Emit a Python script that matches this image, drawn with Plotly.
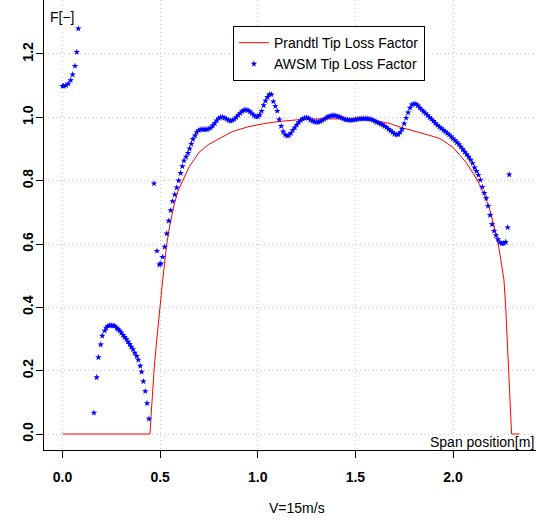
import plotly.graph_objects as go

# Prandtl tip loss factor
prandtl_x = [0.0, 0.448, 0.455, 0.462, 0.470, 0.480, 0.490, 0.500, 0.512, 0.525, 0.534,
             0.550, 0.570, 0.590, 0.617, 0.650, 0.700, 0.750, 0.810, 0.870, 0.950,
             1.030, 1.110, 1.200, 1.300, 1.400, 1.500, 1.600, 1.680, 1.728, 1.800,
             1.870, 1.933, 2.000, 2.036, 2.070, 2.104, 2.135, 2.164, 2.190, 2.207,
             2.225, 2.240, 2.252, 2.261, 2.270, 2.285, 2.300, 2.340]
prandtl_f = [0.0, 0.0, 0.07, 0.14, 0.21, 0.28, 0.35, 0.42, 0.48, 0.55, 0.60,
             0.66, 0.72, 0.765, 0.80, 0.845, 0.89, 0.915, 0.935, 0.955, 0.970,
             0.980, 0.987, 0.992, 0.995, 0.996, 0.995, 0.990, 0.980, 0.969, 0.958,
             0.945, 0.933, 0.905, 0.880, 0.855, 0.822, 0.790, 0.749, 0.705, 0.665,
             0.620, 0.570, 0.525, 0.486, 0.40, 0.20, 0.0, 0.0]

# AWSM tip loss factor
awsm_x = [0.000, 0.006, 0.018, 0.030, 0.042, 0.052, 0.064, 0.073, 0.081,
          0.161, 0.175, 0.184, 0.196, 0.204, 0.216, 0.224, 0.233, 0.242, 0.250,
          0.259, 0.267, 0.278, 0.284, 0.293, 0.301, 0.310, 0.318, 0.327, 0.335,
          0.344, 0.352, 0.361, 0.370, 0.380, 0.388, 0.398, 0.405, 0.414, 0.424,
          0.433, 0.443,
          0.469, 0.484, 0.496, 0.504, 0.513, 0.523, 0.534, 0.544, 0.554, 0.564,
          0.575, 0.585, 0.595, 0.605, 0.614, 0.622, 0.633, 0.643, 0.651, 0.660,
          0.668, 0.679, 0.687, 0.698,
          0.71, 0.72, 0.73, 0.74, 0.75, 0.76, 0.77, 0.78, 0.79, 0.80,
          0.81, 0.82, 0.83, 0.84, 0.85, 0.86, 0.87, 0.88, 0.89, 0.90,
          0.91, 0.92, 0.93, 0.94, 0.95, 0.96, 0.97, 0.98, 0.99, 1.00,
          1.01, 1.02, 1.03, 1.04, 1.05, 1.06, 1.07, 1.08, 1.09, 1.10,
          1.11, 1.12, 1.13, 1.14, 1.15, 1.16, 1.17, 1.18, 1.19, 1.20,
          1.21, 1.22, 1.23, 1.24, 1.25, 1.26, 1.27, 1.28, 1.29, 1.30,
          1.31, 1.32, 1.33, 1.34, 1.35, 1.36, 1.37, 1.38, 1.39, 1.40,
          1.41, 1.42, 1.43, 1.44, 1.45, 1.46, 1.47, 1.48, 1.49, 1.50,
          1.51, 1.52, 1.53, 1.54, 1.55, 1.56, 1.57, 1.58, 1.59, 1.60,
          1.61, 1.62, 1.63, 1.64, 1.65, 1.66, 1.67, 1.68, 1.69, 1.70,
          1.71, 1.72, 1.73, 1.74, 1.75, 1.76, 1.77, 1.78, 1.79, 1.80,
          1.81, 1.82, 1.83, 1.84, 1.85, 1.86, 1.87, 1.88, 1.89, 1.90,
          1.91, 1.92, 1.93, 1.94, 1.95, 1.96, 1.97, 1.98, 1.99, 2.00,
          2.01, 2.02, 2.03, 2.04, 2.05, 2.06, 2.07, 2.08, 2.09, 2.10,
          2.11, 2.12, 2.13, 2.14, 2.15, 2.16, 2.17, 2.18, 2.19, 2.20,
          2.21, 2.22, 2.23, 2.24, 2.25, 2.26, 2.27, 2.280, 2.288]
awsm_f = [1.099, 1.099, 1.101, 1.106, 1.117, 1.135, 1.162, 1.206, 1.280,
          0.067, 0.179, 0.242, 0.282, 0.310, 0.326, 0.335, 0.341, 0.343, 0.343,
          0.342, 0.341, 0.335, 0.331, 0.326, 0.320, 0.312, 0.306, 0.300, 0.292,
          0.284, 0.275, 0.267, 0.256, 0.246, 0.234, 0.215, 0.196, 0.166, 0.135,
          0.097, 0.048,
          0.791, 0.578, 0.535, 0.538, 0.559, 0.591, 0.633, 0.673, 0.706, 0.735,
          0.756, 0.778, 0.800, 0.824, 0.845, 0.863, 0.875, 0.887, 0.901, 0.916,
          0.931, 0.942, 0.953, 0.959,
          0.962, 0.962, 0.962, 0.962, 0.964, 0.967, 0.974, 0.981, 0.990, 0.997,
          1.000, 1.001, 0.998, 0.995, 0.991, 0.989, 0.990, 0.994, 1.000, 1.007,
          1.013, 1.019, 1.023, 1.024, 1.022, 1.018, 1.012, 1.006, 1.002, 1.002,
          1.008, 1.020, 1.038, 1.052, 1.064, 1.073, 1.072, 1.050, 1.035, 1.020,
          0.993, 0.972, 0.955, 0.945, 0.941, 0.944, 0.950, 0.960, 0.968, 0.976,
          0.984, 0.990, 0.995, 0.998, 0.999, 0.997, 0.992, 0.989, 0.986, 0.985,
          0.985, 0.987, 0.990, 0.994, 0.998, 1.002, 1.004, 1.006, 1.006, 1.005,
          1.003, 1.001, 0.998, 0.995, 0.993, 0.992, 0.991, 0.991, 0.992, 0.993,
          0.994, 0.995, 0.996, 0.996, 0.996, 0.996, 0.995, 0.994, 0.991, 0.988,
          0.985, 0.982, 0.979, 0.976, 0.972, 0.968, 0.963, 0.958, 0.953, 0.948,
          0.945, 0.946, 0.953, 0.963, 0.980, 0.998, 1.015, 1.030, 1.040, 1.043,
          1.042, 1.037, 1.030, 1.024, 1.018, 1.012, 1.006, 1.000, 0.994, 0.988,
          0.981, 0.975, 0.970, 0.965, 0.960, 0.955, 0.950, 0.945, 0.939, 0.933,
          0.927, 0.921, 0.915, 0.907, 0.899, 0.891, 0.883, 0.875, 0.866, 0.855,
          0.841, 0.830, 0.818, 0.802, 0.780, 0.761, 0.745, 0.720, 0.691, 0.662,
          0.641, 0.627, 0.615, 0.605, 0.601, 0.602, 0.606, 0.652, 0.819]

x_ticks = [0.0, 0.5, 1.0, 1.5, 2.0]
x_tick_labels = ["0.0", "0.5", "1.0", "1.5", "2.0"]
y_ticks = [0.0, 0.2, 0.4, 0.6, 0.8, 1.0, 1.2]
y_tick_labels = ["0.0", "0.2", "0.4", "0.6", "0.8", "1.0", "1.2"]

FONT = "Liberation Sans, Arial, sans-serif"

fig = go.Figure()
fig.add_trace(go.Scatter(x=prandtl_x, y=prandtl_f, mode="lines",
                         line=dict(color="red", width=1),
                         name="Prandtl Tip Loss Factor"))
fig.add_trace(go.Scatter(x=awsm_x, y=awsm_f, mode="markers",
                         marker=dict(symbol="star", size=5, color="blue",
                                     line=dict(width=0)),
                         name="AWSM Tip Loss Factor"))

fig.update_layout(
    width=536, height=524,
    margin=dict(l=44, r=0, t=0, b=74, autoexpand=False),
    plot_bgcolor="white", paper_bgcolor="white",
    font=dict(family=FONT, color="black", size=14),
    showlegend=True,
    legend=dict(x=0.384, y=0.942, xanchor="left", yanchor="top",
                bordercolor="black", borderwidth=1, bgcolor="white",
                font=dict(size=14, family=FONT), tracegroupgap=0,
                itemwidth=30),
    xaxis=dict(range=[-0.0947, 2.425], tickvals=x_ticks, ticktext=x_tick_labels,
               showline=True, linecolor="black", linewidth=1, automargin=False,
               ticks="outside", ticklen=7, tickcolor="black",
               showgrid=True, gridcolor="#cccccc", griddash="1px,3px", gridwidth=1,
               zeroline=False, tickfont=dict(size=14, family=FONT, weight="bold"),
               ticklabelstandoff=7),
    yaxis=dict(range=[-0.0505, 1.3705], tickvals=y_ticks, ticktext=y_tick_labels,
               showline=True, linecolor="black", linewidth=1, automargin=False,
               ticks="outside", ticklen=7, tickcolor="black", tickangle=-90,
               showgrid=True, gridcolor="#cccccc", griddash="1px,3px", gridwidth=1,
               zeroline=False, tickfont=dict(size=14, family=FONT, weight="bold"),
               ticklabelstandoff=-3),
)

fig.add_annotation(text="F[−]", xref="paper", yref="paper", x=0.0, y=1.0,
                   xshift=4, yshift=-7, xanchor="left", yanchor="top",
                   showarrow=False, font=dict(size=14, family=FONT))
fig.add_annotation(text="Span position[m]", xref="paper", yref="paper", x=1.0, y=0.0,
                   xanchor="right", yanchor="bottom", showarrow=False, yshift=-2,
                   font=dict(size=14, family=FONT))
fig.add_annotation(text="V=15m/s", xref="paper", yref="paper", x=0.515, y=0.0,
                   xanchor="center", yanchor="middle", yshift=-58, showarrow=False,
                   font=dict(size=14, family=FONT))

fig.write_html("out.html", config={"displayModeBar": False},
               post_script="document.body.style.margin='0px';document.body.style.padding='0px';")
